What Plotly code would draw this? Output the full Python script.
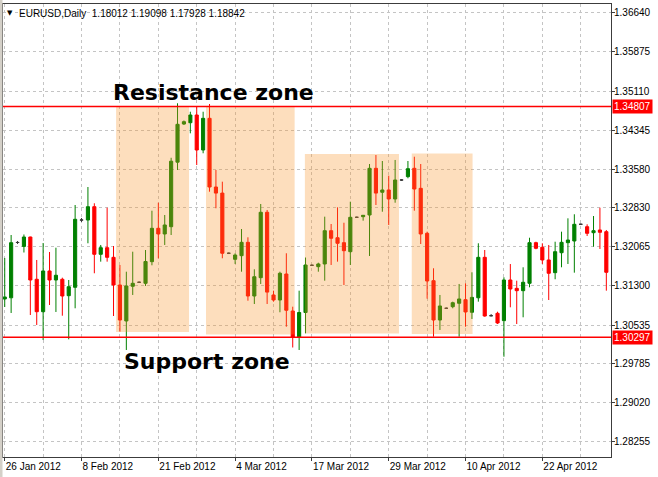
import plotly.graph_objects as go

# ---------------- data ----------------
bars = list(range(95))
opens = [1.31046, 1.31069, 1.32150, 1.32073, 1.32257, 1.31431, 1.30797, 1.31593, 1.31417, 1.31431,
         1.31110, 1.31274, 1.32589, 1.32589, 1.32849, 1.31919, 1.32048, 1.31860, 1.31319, 1.30616,
         1.31294, 1.31372, 1.31352, 1.31775, 1.32427, 1.32316, 1.32458, 1.33719, 1.34465, 1.34490,
         1.34641, 1.33957, 1.34576, 1.33234, 1.33115, 1.31939, 1.31821, 1.31892, 1.32153, 1.31104,
         1.31462, 1.32740, 1.31124, 1.31026, 1.31534, 1.30811, 1.30293, 1.30782, 1.31704, 1.31677,
         1.31730, 1.32380, 1.32243, 1.32146, 1.31970, 1.32642, 1.32654, 1.32687, 1.33599, 1.33131,
         1.33176, 1.33000, 1.33371, 1.33436, 1.33599, 1.33208, 1.32329, 1.31403, 1.30635, 1.30864,
         1.30895, 1.30962, 1.31032, 1.30786, 1.31069, 1.31860, 1.30719, 1.30766, 1.30622, 1.31417,
         1.31254, 1.31208, 1.31352, 1.32146, 1.32056, 1.31808, 1.31560, 1.31950, 1.32146, 1.32179,
         1.32505, 1.32458, 1.32341, 1.32394, 1.32361]
highs = [1.31847, 1.32296, 1.32179, 1.32306, 1.32263, 1.31808, 1.32140, 1.31964, 1.32048, 1.31462,
         1.31417, 1.32882, 1.32628, 1.33234, 1.32916, 1.32101, 1.32830, 1.32081, 1.31710, 1.31579,
         1.31970, 1.31387, 1.32003, 1.32771, 1.32927, 1.32687, 1.33805, 1.34870, 1.34534, 1.34705,
         1.34803, 1.34705, 1.34856, 1.33566, 1.33338, 1.31954, 1.31939, 1.32413, 1.32251, 1.31626,
         1.32902, 1.32785, 1.31208, 1.31579, 1.31939, 1.30895, 1.31208, 1.31856, 1.31720, 1.31755,
         1.32654, 1.32511, 1.32837, 1.32536, 1.32947, 1.32657, 1.32687, 1.33683, 1.33859, 1.33742,
         1.33455, 1.33762, 1.33390, 1.33742, 1.33826, 1.33683, 1.32361, 1.31646, 1.31124, 1.30880,
         1.30993, 1.31339, 1.31352, 1.31567, 1.32134, 1.32003, 1.30752, 1.30797, 1.31470, 1.31729,
         1.31403, 1.31665, 1.32243, 1.32165, 1.32134, 1.32101, 1.32165, 1.32361, 1.32622, 1.32701,
         1.32521, 1.32505, 1.32667, 1.32830, 1.32394]
lows = [1.30889, 1.30772, 1.32120, 1.31954, 1.30733, 1.30538, 1.30244, 1.30928, 1.30792, 1.30719,
        1.30258, 1.30864, 1.32550, 1.32134, 1.31548, 1.31775, 1.31775, 1.30713, 1.30407, 1.30049,
        1.31124, 1.31358, 1.31300, 1.31704, 1.31841, 1.32101, 1.32296, 1.33566, 1.34446, 1.34283,
        1.33664, 1.33893, 1.33142, 1.32818, 1.31841, 1.31924, 1.31730, 1.31579, 1.31012, 1.30948,
        1.31339, 1.30948, 1.30993, 1.30786, 1.30504, 1.30098, 1.30049, 1.30375, 1.31691, 1.31579,
        1.31403, 1.31710, 1.31775, 1.31319, 1.31710, 1.32628, 1.32576, 1.31886, 1.32882, 1.32751,
        1.32492, 1.32927, 1.33351, 1.33404, 1.32771, 1.32120, 1.31052, 1.30309, 1.30440, 1.30850,
        1.30864, 1.30309, 1.30504, 1.30655, 1.30993, 1.30700, 1.30704, 1.30557, 1.29918, 1.30883,
        1.30557, 1.30688, 1.31274, 1.32017, 1.31730, 1.31026, 1.31431, 1.31665, 1.31730, 1.31560,
        1.32492, 1.32277, 1.32068, 1.32023, 1.31208]
closes = [1.31085, 1.32146, 1.32150, 1.32257, 1.31417, 1.30797, 1.31593, 1.31417, 1.31509, 1.31104,
          1.31286, 1.32603, 1.32589, 1.32849, 1.31919, 1.32048, 1.31860, 1.31319, 1.30635, 1.31300,
          1.31352, 1.31372, 1.31778, 1.32427, 1.32316, 1.32492, 1.33738, 1.34459, 1.34510, 1.34641,
          1.33957, 1.34576, 1.33234, 1.33115, 1.31939, 1.31939, 1.31905, 1.32153, 1.31104, 1.31481,
          1.32740, 1.31180, 1.31026, 1.31548, 1.30825, 1.30293, 1.30782, 1.31710, 1.31704, 1.31730,
          1.32380, 1.32232, 1.32134, 1.31989, 1.32642, 1.32642, 1.32681, 1.33599, 1.33115, 1.33176,
          1.33000, 1.33371, 1.33371, 1.33592, 1.33195, 1.32316, 1.31397, 1.30635, 1.30909, 1.30864,
          1.30973, 1.31046, 1.30792, 1.31077, 1.31860, 1.30713, 1.30719, 1.30577, 1.31417, 1.31241,
          1.31208, 1.31372, 1.32146, 1.32036, 1.31808, 1.31548, 1.31970, 1.32153, 1.32198, 1.32505,
          1.32505, 1.32329, 1.32380, 1.32349, 1.31567]

price_ticks = [1.36640, 1.35875, 1.35110, 1.34345, 1.33580, 1.32830, 1.32065,
               1.31300, 1.30535, 1.29785, 1.29020, 1.28255]
date_tick_bars = [0, 12, 24, 36, 48, 60, 72, 84]
date_labels = ["26 Jan 2012", "8 Feb 2012", "21 Feb 2012", "4 Mar 2012",
               "17 Mar 2012", "29 Mar 2012", "10 Apr 2012", "22 Apr 2012"]
resistance_level = 1.34807
support_level = 1.30297
# zones: (first bar, last bar, low price, high price)
zone_bar_start = [17.4, 31.45, 46.9, 63.6]
zone_bar_end = [28.8, 45.3, 61.6, 73.1]
zone_low = [1.30401, 1.30352, 1.30372, 1.30362]
zone_high = [1.34797, 1.34797, 1.33879, 1.33889]
header_text = "EURUSD,Daily  1.18012 1.19098 1.17928 1.18842"

# ---------------- layout geometry ----------------
W, H = 658, 477
ML, MR, MT, MB = 3, 47, 4, 20
PW, PH = W - ML - MR, H - MT - MB


def px_x(px):
    return (px - ML) / PW


def px_y(py):
    return 1 - (py - MT) / PH


GREEN = "#008000"
RED = "#FF0000"
DOJI = "#3a3a3a"
GRID = "#c4c4c4"
FRAME = "#3c3c3c"
FONT = "Liberation Sans"

is_doji = [o == c for o, c in zip(opens, closes)]


def pick(arr, want):
    return [v for v, d in zip(arr, is_doji) if d == want]


fig = go.Figure()
fig.add_trace(go.Candlestick(
    x=pick(bars, False), open=pick(opens, False), high=pick(highs, False),
    low=pick(lows, False), close=pick(closes, False),
    increasing=dict(line=dict(color=GREEN, width=1), fillcolor=GREEN),
    decreasing=dict(line=dict(color=RED, width=1), fillcolor=RED),
    whiskerwidth=0, hoverinfo="skip", showlegend=False,
))
fig.add_trace(go.Candlestick(
    x=pick(bars, True), open=pick(opens, True), high=pick(highs, True),
    low=pick(lows, True), close=pick(closes, True),
    increasing=dict(line=dict(color=DOJI, width=1), fillcolor=DOJI),
    decreasing=dict(line=dict(color=DOJI, width=1), fillcolor=DOJI),
    whiskerwidth=0, hoverinfo="skip", showlegend=False,
))

shapes = []
for x0, x1, y0, y1 in zip(zone_bar_start, zone_bar_end, zone_low, zone_high):
    shapes.append(dict(type="rect", xref="x", yref="y", x0=x0, x1=x1, y0=y0, y1=y1,
                       fillcolor="rgb(250,145,38)", opacity=0.3, line=dict(width=0),
                       layer="above"))
for lvl in (resistance_level, support_level):
    shapes.append(dict(type="line", xref="paper", yref="y", x0=0, x1=1, y0=lvl, y1=lvl,
                       line=dict(color=RED, width=1.5), layer="above"))
# window border on the left
shapes.append(dict(type="rect", xref="paper", yref="paper", x0=px_x(0), x1=px_x(2.5),
                   y0=px_y(H), y1=px_y(0), fillcolor="#d4d0c8", line=dict(width=0),
                   layer="above"))

annotations = []
for lvl in (resistance_level, support_level):
    annotations.append(dict(xref="paper", yref="y", x=1, y=lvl, xanchor="left",
                            yanchor="middle", xshift=1, text=f"{lvl:.5f}", showarrow=False,
                            bgcolor=RED, borderpad=1,
                            font=dict(family=FONT, size=10, color="white")))
annotations.append(dict(xref="x", yref="y", x=17.23, y=1.35077, xanchor="left",
                        yanchor="middle", xshift=-4, text="Resistance zone", showarrow=False,
                        font=dict(family="DejaVu Sans", size=22, color="black",
                                  weight="bold")))
annotations.append(dict(xref="x", yref="y", x=18.95, y=1.29834, xanchor="left",
                        yanchor="middle", xshift=-4, text="Support zone", showarrow=False,
                        font=dict(family="DejaVu Sans", size=22, color="black",
                                  weight="bold")))
annotations.append(dict(xref="paper", yref="paper", x=px_x(5), y=px_y(13), xanchor="left",
                        yanchor="middle", text="▼", showarrow=False,
                        font=dict(family="DejaVu Sans", size=7, color="black")))
annotations.append(dict(xref="paper", yref="paper", x=px_x(17), y=px_y(13.5),
                        xanchor="left", yanchor="middle", text=header_text,
                        showarrow=False, font=dict(family=FONT, size=10, color="black")))

fig.update_layout(
    width=W, height=H, margin=dict(l=ML, r=MR, t=MT, b=MB),
    paper_bgcolor="white", plot_bgcolor="white",
    shapes=shapes, annotations=annotations, showlegend=False,
    xaxis=dict(
        range=[-0.27, 94.73], type="linear", rangeslider=dict(visible=False),
        tickmode="array", tickvals=date_tick_bars, ticktext=date_labels,
        ticks="outside", ticklen=3, tickcolor=FRAME, ticklabelposition="outside right",
        tickfont=dict(family=FONT, size=10, color="black"),
        showgrid=True, gridcolor=GRID, griddash="dot", gridwidth=1,
        minor=dict(tickmode="linear", tick0=0, dtick=6, showgrid=True,
                   gridcolor=GRID, griddash="dot", gridwidth=1, ticks=""),
        showline=True, mirror=True, linecolor=FRAME, linewidth=1, zeroline=False,
        fixedrange=True, automargin=False,
    ),
    yaxis=dict(
        side="right", range=[1.27958, 1.36810],
        tickmode="array", tickvals=price_ticks, ticktext=[f"{v:.5f}" for v in price_ticks],
        ticks="outside", ticklen=3, tickcolor=FRAME, ticklabelstandoff=-3,
        tickfont=dict(family=FONT, size=10, color="black"),
        showgrid=True, gridcolor=GRID, griddash="dot", gridwidth=1,
        showline=True, mirror=True, linecolor=FRAME, linewidth=1, zeroline=False,
        fixedrange=True, automargin=False,
    ),
)

fig.write_html("out.html", config={"displayModeBar": False},
               post_script="document.body.style.margin='0';document.body.style.overflow='hidden';")
